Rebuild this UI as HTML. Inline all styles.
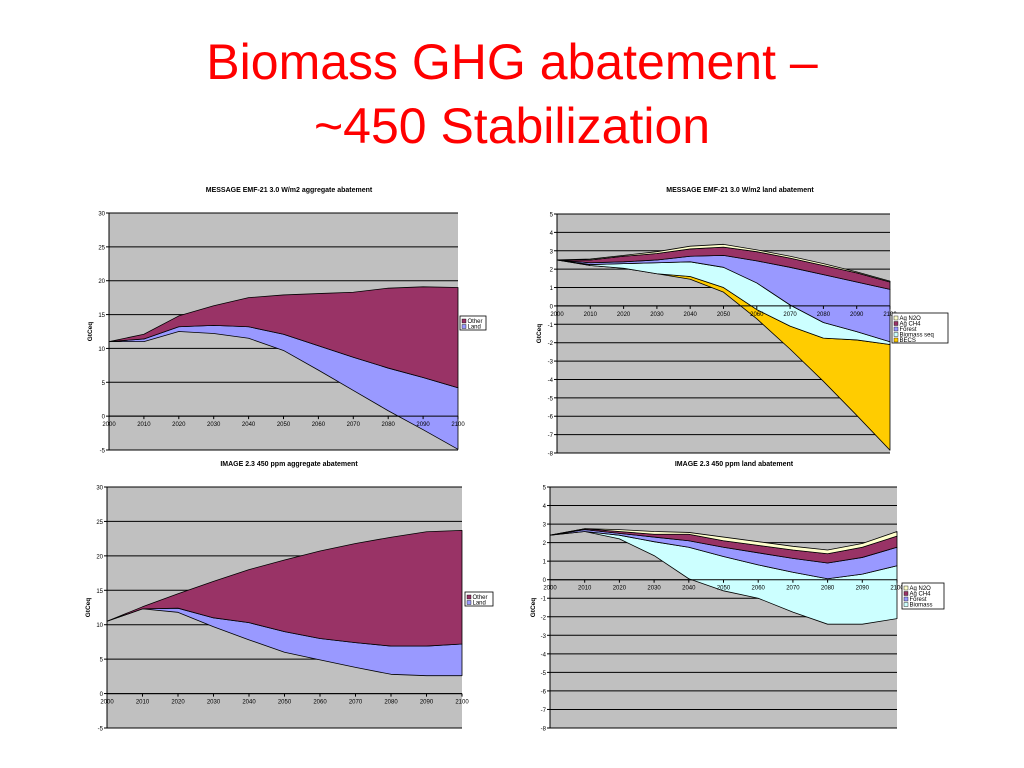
<!DOCTYPE html>
<html><head><meta charset="utf-8"><style>
body{margin:0;width:1024px;height:768px;background:#fff;overflow:hidden;font-family:"Liberation Sans",sans-serif}
h1{position:absolute;left:0;width:1024px;top:30px;margin:0;text-align:center;color:#ff0000;font-weight:normal;font-size:50px;line-height:64px}
svg{position:absolute;left:0;top:0}
</style></head><body>
<h1>Biomass GHG abatement –<br>~450 Stabilization</h1>
<svg id="s" width="1024" height="768"></svg>
<script>
const years=[2000,2010,2020,2030,2040,2050,2060,2070,2080,2090,2100];
// Chart 1: MESSAGE aggregate (base line + stacked layers)
const c1Base=[11,11,12.5,12.2,11.5,9.7,6.8,3.8,0.8,-2,-4.9];
const c1Land=[0,0.4,0.7,1.2,1.7,2.4,3.6,4.9,6.3,7.7,9.1];
const c1Other=[0,0.7,1.6,2.9,4.3,5.8,7.7,9.6,11.8,13.4,14.8];
// Chart 2: MESSAGE land
const c2Base=[2.5,2.2,2.05,1.75,1.45,0.75,-0.7,-2.35,-4.1,-5.95,-7.85];
const c2BECS=[0,0,0,0,0.15,0.25,0.5,1.25,2.35,4.1,5.75];
const c2BioSeq=[0,0.05,0.25,0.6,0.8,1.1,1.45,1.15,0.85,0.45,0.15];
const c2Forest=[0,0.1,0.1,0.15,0.3,0.65,1.2,2.05,2.6,2.7,2.85];
const c2AgCH4=[0,0.15,0.3,0.35,0.4,0.45,0.5,0.5,0.5,0.5,0.4];
const c2AgN2O=[0,0.05,0.05,0.1,0.15,0.15,0.1,0.1,0.1,0.05,0.05];
// Chart 3: IMAGE aggregate
const c3Base=[10.5,12.3,11.8,9.7,7.8,6,4.9,3.8,2.8,2.6,2.6];
const c3Land=[0,0,0.6,1.3,2.5,3,3.1,3.6,4.1,4.3,4.6];
const c3Other=[0,0.3,2.1,5.3,7.7,10.4,12.7,14.4,15.8,16.6,16.5];
// Chart 4: IMAGE land
const c4Base=[2.4,2.6,2.2,1.3,0.05,-0.6,-1.0,-1.75,-2.4,-2.4,-2.1];
const c4Biomass=[0,0,0.2,0.75,1.7,1.85,1.8,2.15,2.45,2.7,2.85];
const c4Forest=[0,0.1,0.1,0.25,0.35,0.5,0.65,0.75,0.85,0.9,1.0];
const c4AgCH4=[0,0.05,0.1,0.15,0.35,0.35,0.4,0.45,0.5,0.55,0.6];
const c4AgN2O=[0,0,0.1,0.15,0.1,0.2,0.2,0.2,0.2,0.2,0.25];
const xTicks=["2000","2010","2020","2030","2040","2050","2060","2070","2080","2090","2100"];
const ticksAgg=[30,25,20,15,10,5,0,-5];
const ticksLand=[5,4,3,2,1,0,-1,-2,-3,-4,-5,-6,-7,-8];

const NS="http://www.w3.org/2000/svg";
const svg=document.getElementById('s');
function mk(tag,at,parent){const e=document.createElementNS(NS,tag);for(const k in at)e.setAttribute(k,at[k]);(parent||svg).appendChild(e);return e;}

function chart(cfg){
  const g=mk('g',{});
  
  
  const {x0,x1,y0,y1,ymin,ymax}=cfg;
  const X=i=>x0+(x1-x0)*i/(years.length-1);
  const Y=v=>y0+(y1-y0)*(ymax-v)/(ymax-ymin);
  const bg=mk('rect',{x:x0,y:y0,width:x1-x0,height:y1-y0,fill:'#c0c0c0'},g);
  
  
  cfg.ticks.forEach(t=>{
    const l=mk('line',{x1:x0,x2:x1,y1:Y(t),y2:Y(t),stroke:'#000','stroke-width':1},g);
    
    
    mk('line',{x1:x0-3,x2:x0,y1:Y(t),y2:Y(t),stroke:'#000'},g);
    const tx=mk('text',{x:x0-4,y:Y(t)+2.5,'font-size':6,'text-anchor':'end',fill:'#000'},g);
    tx.textContent=t;
    
    
  });
  // stacked areas
  let lower=cfg.base.slice();
  cfg.series.forEach(s=>{
    const upper=lower.map((v,i)=>v+s.vals[i]);
    let d='M'+upper.map((v,i)=>X(i)+','+Y(v)).join(' L');
    for(let i=lower.length-1;i>=0;i--)d+=' L'+X(i)+','+Y(lower[i]);
    const p=mk('path',{d:d+'Z',fill:s.color,stroke:'#000','stroke-width':0.8,'stroke-linejoin':'round'},g);
    
    
    lower=upper;
  });
  mk('line',{x1:x0,x2:x0,y1:y0,y2:y1,stroke:'#000'},g);
  mk('line',{x1:x0,x2:x1,y1:Y(0),y2:Y(0),stroke:'#000'},g);
  years.forEach((y,i)=>{
    mk('line',{x1:X(i),x2:X(i),y1:Y(0),y2:Y(0)+3,stroke:'#000'},g);
    const tx=mk('text',{x:X(i),y:Y(0)+10,'font-size':6,'text-anchor':'middle',fill:'#000'},g);
    tx.textContent=xTicks[i];
    
    
  });
  const t=mk('text',{x:cfg.tx,y:cfg.ty,'font-size':7,'font-weight':'bold','text-anchor':'middle'},g);
  t.textContent=cfg.title;
  
  
  const yl=mk('text',{x:cfg.ylx,y:(y0+y1)/2,'font-size':6.5,'font-weight':'bold','text-anchor':'middle',transform:`rotate(-90 ${cfg.ylx} ${(y0+y1)/2})`},g);
  yl.textContent='GtCeq';
  
  
  // legend
  const L=cfg.legend;
  const lg=mk('g',{},g);
  
  
  mk('rect',{x:L.x,y:L.y,width:L.w,height:L.h,fill:'#fff',stroke:'#000','stroke-width':0.8},lg);
  const items=cfg.series.slice().reverse();
  items.forEach((s,k)=>{
    const yy=L.y+3+k*5.5;
    mk('rect',{x:L.x+2,y:yy,width:4,height:4,fill:s.color,stroke:'#000','stroke-width':0.4},lg);
    const tx=mk('text',{x:L.x+7.5,y:yy+4,'font-size':6,fill:'#000'},lg);
    tx.textContent=s.label;
    
    
  });
}
chart({name:'message-aggregate-chart',x0:109,x1:458,y0:213,y1:450,ymin:-5,ymax:30,ticks:ticksAgg,base:c1Base,
  series:[{key:'land',label:'Land',color:'#9999ff',vals:c1Land},{key:'other',label:'Other',color:'#993366',vals:c1Other}],
  title:'MESSAGE EMF-21 3.0 W/m2 aggregate abatement',tx:289,ty:192,ylx:92,legend:{x:460,y:316,w:26,h:14}});
chart({name:'message-land-chart',x0:557,x1:890,y0:214,y1:453,ymin:-8,ymax:5,ticks:ticksLand,base:c2Base,
  series:[{key:'becs',label:'BECS',color:'#ffcc00',vals:c2BECS},{key:'biomass-seq',label:'Biomass seq',color:'#ccffff',vals:c2BioSeq},
   {key:'forest',label:'Forest',color:'#9999ff',vals:c2Forest},{key:'ag-ch4',label:'Ag CH4',color:'#993366',vals:c2AgCH4},{key:'ag-n2o',label:'Ag N2O',color:'#ffffcc',vals:c2AgN2O}],
  title:'MESSAGE EMF-21 3.0 W/m2 land abatement',tx:740,ty:192,ylx:541,legend:{x:892,y:313,w:56,h:30}});
chart({name:'image-aggregate-chart',x0:107,x1:462,y0:487,y1:728,ymin:-5,ymax:30,ticks:ticksAgg,base:c3Base,
  series:[{key:'land',label:'Land',color:'#9999ff',vals:c3Land},{key:'other',label:'Other',color:'#993366',vals:c3Other}],
  title:'IMAGE 2.3 450 ppm aggregate abatement',tx:289,ty:466,ylx:90,legend:{x:465,y:592,w:28,h:14}});
chart({name:'image-land-chart',x0:550,x1:897,y0:487,y1:728,ymin:-8,ymax:5,ticks:ticksLand,base:c4Base,
  series:[{key:'biomass',label:'Biomass',color:'#ccffff',vals:c4Biomass},{key:'forest',label:'Forest',color:'#9999ff',vals:c4Forest},
   {key:'ag-ch4',label:'Ag CH4',color:'#993366',vals:c4AgCH4},{key:'ag-n2o',label:'Ag N2O',color:'#ffffcc',vals:c4AgN2O}],
  title:'IMAGE 2.3 450 ppm land abatement',tx:734,ty:466,ylx:535,legend:{x:902,y:583,w:42,h:26}});
</script>
</body></html>
